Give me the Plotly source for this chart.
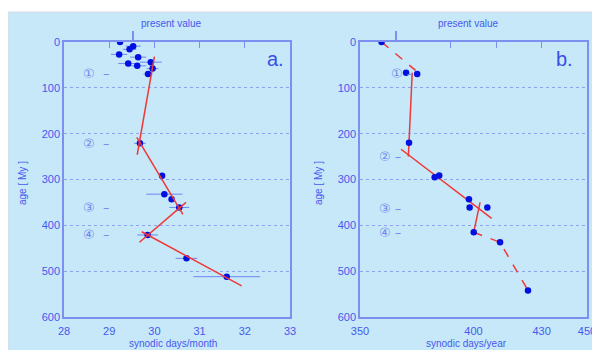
import plotly.graph_objects as go

# ---------------- data ----------------
# panel a: synodic days per month vs age
month_age = [0, 9, 16, 27, 33, 44, 47, 52, 58, 70, 221, 292, 332, 343, 361, 421, 472, 512]
month_val = [29.24, 29.53, 29.45, 29.22, 29.64, 29.92, 29.42, 29.62, 29.96, 29.86,
             29.68, 30.17, 30.22, 30.38, 30.55, 29.85, 30.71, 31.60]
month_err = [0, 0.17, 0.15, 0.18, 0.18, 0.24, 0.22, 0.2, 0.13, 0.1,
             0.13, 0, 0.4, 0.05, 0.22, 0.23, 0.24, 0.74]

# red trend segments panel a (x list, age list)
trend_a = [
    ([30.00, 29.62], [32, 246]),
    ([29.61, 30.63], [208, 376]),
    ([30.70, 29.67], [350, 437]),
    ([29.72, 31.93], [414, 532]),
]

# panel b: synodic days per year vs age
year_age = [0, 67, 70, 220, 291, 295, 343, 361, 361, 415, 437, 542]
year_val = [359.5, 370.3, 375.2, 371.6, 384.9, 382.9, 398.0, 398.3, 406.1, 400.1, 411.7, 424.0]

trend_b_solid = [
    ([373.0, 371.3], [67, 250]),
    ([368.1, 408.0], [234, 385]),
    ([402.9, 400.1], [350, 415]),
]
trend_b_dash = [
    ([359.5, 374.5], [0, 62]),
    ([400.1, 411.7, 424.0], [415, 437, 542]),
]

label_text = ["①", "②", "③", "④"]
label_age_a = [68, 222, 361, 421]
label_age_b = [68, 249, 363, 416]
label_x_a = [28.38, 28.38, 28.38, 28.38]
label_x_b = [362.6, 357.7, 357.7, 357.7]

age_ticks = [0, 100, 200, 300, 400, 500, 600]
month_ticks = [28, 29, 30, 31, 32, 33]
month_top_ticks = [29, 30, 31, 32]
year_ticks = [350, 400, 430, 450]
year_top_ticks = [390, 410, 430]
present_month = 29.53
present_year = 365.9

# ---------------- style ----------------
BG = "#c7e8f8"
AX = "#7d90f0"
TXT = "#4658ee"
DOT = "#0010e0"
RED = "#f03838"
ERR = "#6f88ee"
FONT = "Liberation Sans"

W, H = 600, 350
OFF = 8  # page body margin offset
def px(x):
    return (x - OFF) / W
def py(y):
    return 1 - (y - OFF) / H

fig = go.Figure()

# panel a points
fig.add_trace(go.Scatter(
    x=month_val, y=month_age, mode="markers",
    marker=dict(color=DOT, size=6.5),
    error_x=dict(type="data", array=month_err, color=ERR, thickness=1, width=0),
    xaxis="x", yaxis="y", showlegend=False))
for xs, ys in trend_a:
    fig.add_trace(go.Scatter(x=xs, y=ys, mode="lines", line=dict(color=RED, width=1.5),
                             xaxis="x", yaxis="y", showlegend=False))

# panel b
for xs, ys in trend_b_solid:
    fig.add_trace(go.Scatter(x=xs, y=ys, mode="lines", line=dict(color=RED, width=1.5),
                             xaxis="x2", yaxis="y2", showlegend=False))
for xs, ys in trend_b_dash:
    fig.add_trace(go.Scatter(x=xs, y=ys, mode="lines", line=dict(color=RED, width=1.5, dash="dash"),
                             xaxis="x2", yaxis="y2", showlegend=False))
fig.add_trace(go.Scatter(
    x=year_val, y=year_age, mode="markers",
    marker=dict(color=DOT, size=6.5),
    xaxis="x2", yaxis="y2", showlegend=False))

# dummy traces to activate top axes
fig.add_trace(go.Scatter(x=[None], y=[None], xaxis="x3", yaxis="y", showlegend=False))
fig.add_trace(go.Scatter(x=[None], y=[None], xaxis="x4", yaxis="y2", showlegend=False))

xa_dom = [px(64), px(290)]
xb_dom = [px(360), px(587)]
y_dom = [py(317), py(42)]

tickfont = dict(family=FONT, size=11, color=TXT)

common_y = dict(
    range=[600, 0], tickvals=age_ticks, showgrid=True, gridcolor="#8ea2f2",
    griddash="dot", gridwidth=1, showline=True, linecolor=AX, linewidth=1.5,
    mirror=True, ticks="", tickfont=tickfont, zeroline=False, domain=y_dom,
    automargin=False)

common_x = dict(showgrid=False, showline=True, linecolor=AX, linewidth=1.5,
                mirror=True, ticks="", tickfont=tickfont, zeroline=False, automargin=False,
                ticklabelstandoff=3)

top_common = dict(ticks="outside", ticklen=10, tickcolor=AX, tickwidth=1.5,
                  showticklabels=False, showgrid=False, showline=False, zeroline=False,
                  automargin=False, side="top")

fig.update_layout(
    width=W, height=H,
    margin=dict(l=0, r=0, t=0, b=0, autoexpand=False),
    paper_bgcolor="white", plot_bgcolor="rgba(0,0,0,0)",
    xaxis=dict(domain=xa_dom, range=[28, 33], tickvals=month_ticks, anchor="y", **common_x),
    yaxis=dict(anchor="x", **common_y),
    xaxis2=dict(domain=xb_dom, range=[350, 450], tickvals=year_ticks, anchor="y2", **common_x),
    yaxis2=dict(anchor="x2", **common_y),
    xaxis3=dict(overlaying="x", anchor="y", range=[28, 33], tickvals=[present_month],
                minor=dict(tickmode="array", tickvals=month_top_ticks, ticks="inside",
                           ticklen=6, tickcolor=AX, tickwidth=1, showgrid=False),
                **top_common),
    xaxis4=dict(overlaying="x2", anchor="y2", range=[350, 450], tickvals=[present_year],
                minor=dict(tickmode="array", tickvals=year_top_ticks, ticks="inside",
                           ticklen=6, tickcolor=AX, tickwidth=1, showgrid=False),
                **top_common),
)

# background panel
fig.add_shape(type="rect", xref="paper", yref="paper", x0=px(8), x1=1.01, y0=-0.01, y1=py(12),
              fillcolor=BG, line=dict(color="#d6dce4", width=1), layer="below")

ann = []
small = dict(family=FONT, size=10, color=TXT)
def pann(text, x, y, font, **kw):
    ann.append(dict(text=text, x=px(x), y=py(y), xref="paper", yref="paper",
                    xanchor="center", yanchor="middle", showarrow=False, font=font, **kw))

pann("present value", 171, 24, small)
pann("present value", 468, 24, small)
pann("synodic days/month", 173, 343, small)
pann("synodic days/year", 466, 343, small)
pann("age [ My ]", 22, 183, small, textangle=-90)
pann("age [ My ]", 318, 183, small, textangle=-90)
bigfont = dict(family=FONT, size=20, color="#3a4ee8")
pann("a.", 275, 59, bigfont)
pann("b.", 564, 59, bigfont)

lblfont = dict(family="DejaVu Sans", size=13, color="#7088ee")
for t, a, x in zip(label_text, label_age_a, label_x_a):
    ann.append(dict(text=t + "  –", x=x, y=a, xref="x", yref="y", xanchor="left",
                    yanchor="middle", showarrow=False, font=lblfont))
for t, a, x in zip(label_text, label_age_b, label_x_b):
    ann.append(dict(text=t + " –", x=x, y=a, xref="x2", yref="y2", xanchor="left",
                    yanchor="middle", showarrow=False, font=lblfont))
fig.update_layout(annotations=ann)

fig.write_html("out.html")
